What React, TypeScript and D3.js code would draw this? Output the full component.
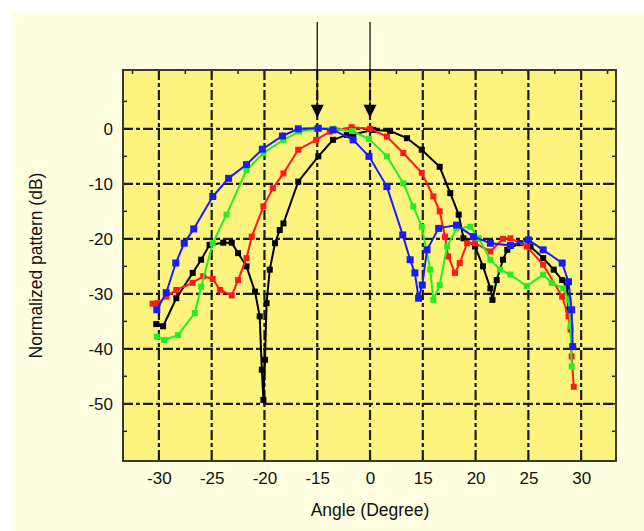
import React, { useRef, useEffect } from "react";
import * as d3 from "d3";

// x ticks sit on an even grid; the printed labels are not evenly spaced
const xTickPos = [-20, -15, -10, -5, 0, 5, 10, 15, 20];
const xTickLabels = ["-30", "-25", "-20", "-15", "0", "15", "20", "25", "30"];
const yTicks = [0, -10, -20, -30, -40, -50];
const arrowAt = [-5, 0];

// [grid position, normalized pattern dB]
const blackPts: [number, number][] = [
  [-20.25, -35.5], [-19.6, -35.9], [-18.35, -30.8], [-16.8, -26.2], [-16.0, -23.8],
  [-15.2, -21.1], [-13.9, -20.7], [-13.1, -20.7], [-12.5, -22.6], [-11.7, -25],
  [-10.9, -29.6], [-10.45, -34.1], [-10.25, -43.8], [-10.1, -49.3], [-9.95, -42],
  [-9.8, -31.7], [-9.5, -25.6], [-9.0, -20.8], [-8.55, -18.4], [-8.2, -17.2],
  [-6.8, -9.6], [-4.9, -5.0], [-3.5, -2.0], [-2.2, -1.1], [-1.6, -1.0],
  [0.3, -0.2], [1.9, -0.4], [3.5, -1.7], [4.9, -3.8], [6.6, -6.9],
  [7.6, -11.7], [8.4, -15.6], [8.85, -19.9], [9.95, -21.4], [10.7, -25],
  [11.4, -29], [11.6, -31.1], [12.0, -27.5], [12.6, -23.8], [13.0, -22],
  [14.2, -20.8], [15.2, -21.4], [16.4, -23.5], [17.4, -25.6], [18.2, -27.5],
  [18.65, -28.7], [18.8, -32.9],
];

const redPts: [number, number][] = [
  [-20.6, -31.8], [-20.1, -31.7], [-19.3, -30.5], [-18.35, -29.3], [-16.8, -28],
  [-15.8, -26.8], [-14.9, -27.3], [-14.2, -29.3], [-13.1, -30.3], [-12.5, -27.5],
  [-11.7, -23.5], [-11.2, -19.6], [-10.1, -14.1], [-9.2, -10.8], [-8.2, -8.1],
  [-6.8, -3.8], [-5.1, -2.0], [-3.8, -0.5], [-1.75, 0.3], [0, 0],
  [1.6, -1.4], [3.15, -4.4], [4.9, -8.0], [6.0, -12.3], [6.6, -15],
  [7.1, -19.6], [7.4, -23.2], [8.05, -26.2], [8.5, -24.4], [9.2, -20.8],
  [9.95, -20.8], [11.4, -22.3], [12.6, -20.0], [13.3, -19.9], [14.85, -21.4],
  [16.4, -24.7], [18.2, -30.5], [18.8, -34.1], [19.0, -36.5], [19.1, -41.4],
  [19.3, -46.9],
];

const greenPts: [number, number][] = [
  [-20.2, -37.8], [-19.5, -38.4], [-18.2, -37.5], [-16.6, -33.5], [-16.0, -28.7],
  [-14.9, -20.8], [-13.6, -15.6], [-11.7, -7.5], [-10.1, -4.4], [-8.2, -2.0],
  [-6.7, -0.5], [-5.1, 0], [-3.5, 0], [-1.7, -0.4], [-0.1, -1.8],
  [1.6, -5.0], [3.15, -9.9], [4.1, -14.1], [4.9, -17.8], [5.7, -25.6],
  [6.0, -31.1], [6.6, -28.4], [7.3, -21.4], [8.2, -18.1], [9.5, -17.8],
  [10.3, -19.9], [11.4, -23.8], [12.3, -25.6], [13.3, -26.5], [14.85, -28.6],
  [16.4, -26.5], [17.2, -28], [18.3, -29], [18.8, -31.1], [19.0, -35.9],
  [19.1, -43.2],
];

const bluePts: [number, number][] = [
  [-20.2, -32.9], [-19.3, -29.8], [-18.4, -24.4], [-17.6, -20.8], [-16.7, -18.2],
  [-14.9, -12.3], [-13.4, -9.0], [-11.7, -6.5], [-10.2, -3.7], [-8.3, -1.3],
  [-6.8, 0], [-4.9, 0.1], [-3.5, -0.2], [-1.6, -2.0], [-0.1, -5.0],
  [1.6, -10.5], [3.1, -19.3], [3.8, -23.8], [4.25, -26.2], [4.6, -30.8],
  [4.95, -28.4], [5.4, -22], [6.5, -18.1], [8.2, -17.5], [9.8, -19.6],
  [11.4, -20.8], [13.3, -21.2], [15.0, -20.2], [16.4, -22], [18.2, -24.4],
  [18.8, -27.8], [19.1, -32.9], [19.2, -39.6],
];

const series = [
  { name: "black", color: "#000000", data: blackPts, marker: 6 },
  { name: "red", color: "#ff1a1a", data: redPts, marker: 6 },
  { name: "green", color: "#22ee22", data: greenPts, marker: 6 },
  { name: "blue", color: "#1a1aff", data: bluePts, marker: 7 },
];

const App = () => {
  const svgRef = useRef<SVGSVGElement>(null);

  useEffect(() => {
    const w = 644;
    const h = 531;
    const left = 123, right = 616, top = 70, bottom = 461;
    const font = "'Liberation Sans', Arial, sans-serif";

    const svg = d3.select(svgRef.current).attr("width", w).attr("height", h);
    svg.selectAll("*").remove();

    // backgrounds
    svg.append("rect").attr("width", w).attr("height", h).attr("fill", "#ffffff");
    svg.append("rect").attr("x", 12).attr("y", 12).attr("width", w - 12).attr("height", h - 12).attr("fill", "#fffee0");

    const xScale = d3.scaleLinear().domain([-23.4, 23.3]).range([left, right]);
    const yScale = d3.scaleLinear().domain([-60.4, 10.7]).range([bottom, top]);

    svg.append("rect")
      .attr("x", left).attr("y", top)
      .attr("width", right - left).attr("height", bottom - top)
      .attr("fill", "#fcf47e");

    // grid
    const grid = svg.append("g").attr("stroke", "#1c1c14").attr("stroke-width", 2.2)
      .attr("stroke-dasharray", "10,3,4,3");
    grid.selectAll(".vg").data(xTickPos).join("line")
      .attr("x1", (d) => xScale(d)).attr("x2", (d) => xScale(d))
      .attr("y1", top).attr("y2", bottom);
    grid.selectAll(".hg").data(yTicks).join("line")
      .attr("x1", left).attr("x2", right)
      .attr("y1", (d) => yScale(d)).attr("y2", (d) => yScale(d));

    // minor ticks inside the frame
    const minorY = d3.range(5, -60, -5);
    const minorX = d3.range(-22.5, 23, 2.5);
    const ticks = svg.append("g").attr("stroke", "#222").attr("stroke-width", 1.5);
    ticks.selectAll(".ly").data(minorY).join("line")
      .attr("x1", left).attr("x2", left + 4)
      .attr("y1", (d) => yScale(d)).attr("y2", (d) => yScale(d));
    ticks.selectAll(".ry").data(minorY).join("line")
      .attr("x1", right - 4).attr("x2", right)
      .attr("y1", (d) => yScale(d)).attr("y2", (d) => yScale(d));
    ticks.selectAll(".tx").data(minorX).join("line")
      .attr("x1", (d) => xScale(d)).attr("x2", (d) => xScale(d))
      .attr("y1", top).attr("y2", top + 4);

    // curves
    const line = d3.line<[number, number]>()
      .x((d) => xScale(d[0]))
      .y((d) => yScale(d[1]));

    series.forEach((s) => {
      const g = svg.append("g");
      g.append("path")
        .attr("d", line(s.data))
        .attr("fill", "none")
        .attr("stroke", s.color)
        .attr("stroke-width", 2)
        .attr("stroke-linejoin", "miter");
      g.selectAll("rect").data(s.data).join("rect")
        .attr("x", (d) => xScale(d[0]) - s.marker / 2)
        .attr("y", (d) => yScale(d[1]) - s.marker / 2)
        .attr("width", s.marker).attr("height", s.marker)
        .attr("fill", s.color);
    });

    // frame
    svg.append("rect")
      .attr("x", left).attr("y", top)
      .attr("width", right - left).attr("height", bottom - top)
      .attr("fill", "none").attr("stroke", "#3a3a30").attr("stroke-width", 2);

    // axes
    const xAxis = d3.axisBottom(xScale).tickValues(xTickPos).tickSize(0)
      .tickFormat((d, i) => xTickLabels[i]);
    const gx = svg.append("g").attr("transform", `translate(0, ${bottom + 8})`).call(xAxis);
    const yAxis = d3.axisLeft(yScale).tickValues(yTicks).tickSize(0)
      .tickFormat((d) => String(d));
    const gy = svg.append("g").attr("transform", `translate(${left - 7}, 0)`).call(yAxis);
    [gx, gy].forEach((g) => {
      g.select(".domain").remove();
      g.selectAll(".tick text")
        .attr("font-family", font)
        .attr("font-size", "17px")
        .attr("fill", "#111");
    });

    svg.append("text")
      .attr("x", xScale(0)).attr("y", 516)
      .attr("text-anchor", "middle")
      .attr("font-family", font).attr("font-size", "17.5px").attr("fill", "#111")
      .text("Angle (Degree)");

    svg.append("text")
      .attr("transform", `translate(42, ${(top + bottom) / 2}) rotate(-90)`)
      .attr("text-anchor", "middle")
      .attr("font-family", font).attr("font-size", "17.5px").attr("fill", "#111")
      .text("Normalized pattern (dB)");

    // arrows marking the steered beam peaks
    arrowAt.forEach((u) => {
      const x = xScale(u);
      const tip = yScale(2);
      svg.append("line")
        .attr("x1", x).attr("x2", x).attr("y1", 22).attr("y2", tip - 10)
        .attr("stroke", "#000").attr("stroke-width", 1.2);
      svg.append("path")
        .attr("d", `M${x - 6.5},${tip - 13}L${x + 6.5},${tip - 13}L${x},${tip}Z`)
        .attr("fill", "#000");
    });
  }, []);

  return (
    <div style={{ position: "absolute", left: 0, top: 0 }}>
      <svg ref={svgRef}></svg>
    </div>
  );
};

export default App;
